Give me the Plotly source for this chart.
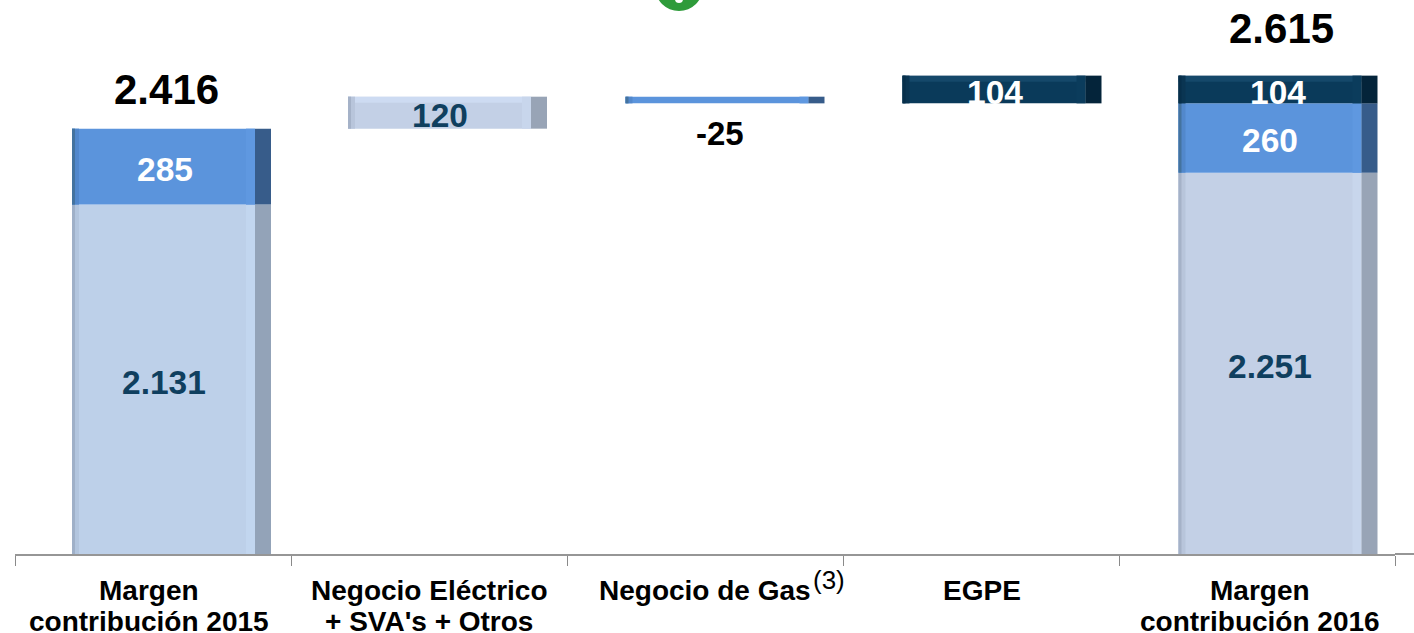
import plotly.graph_objects as go

categories = ["Margen contribución 2015", "Negocio Eléctrico + SVA's + Otros",
              "Negocio de Gas", "EGPE", "Margen contribución 2016"]
label_line1 = ["Margen", "Negocio Eléctrico", "Negocio de Gas", "EGPE", "Margen"]
label_line2 = ["contribución 2015", "+ SVA's + Otros", "", "", "contribución 2016"]
footnote_mark = "(3)"
series_light = [2131, 120, None, None, 2251]
series_blue = [285, None, -25, None, 260]
series_dark = [None, None, None, 104, 104]
totals = [2416, None, None, None, 2615]

FONT = "Liberation Sans"
PX_PER_UNIT = 0.2665
AXIS_MIN = 820
PLOT_W, PLOT_H = 1380, 554
CAT_W = PLOT_W / 5
LABEL_SHIFT = [-4, 0, 0, 1, 2.5]
BAR_SHIFT = [0, 0, 1.5, 2.5, 2.5]


def fmt(v):
    return f"{v:,}".replace(",", ".")


def bases():
    light, blue, dark = [], [], []
    running = 0
    for i in range(len(categories)):
        l, b, d = series_light[i], series_blue[i], series_dark[i]
        start = 0 if totals[i] is not None else running
        light.append(start)
        after_l = start + (l or 0)
        blue.append(after_l)
        after_b = after_l + (b or 0)
        dark.append(after_b)
        running = after_b + (d or 0)
    return light, blue, dark


base_l, base_b, base_d = bases()


def w(px):
    return px / CAT_W


def off(px):
    """Bar offset array: px from the bar's left edge, in category units."""
    return [(-81 + s + px) / CAT_W for s in BAR_SHIFT]


light_2015, light_rest = "#BDD0E9", "#C3D0E6"
layers = [
    dict(vals=series_light, base=base_l, text="#0F3F5F", bevel="#D2E0F6", dx=[0, 0, 0, 0, 0],
         body=[light_2015] + [light_rest] * 4,
         left1=["#9FB0C8"] + ["#A5B2C8"] * 4, left2=["#B2C5DE"] + ["#B8C5DB"] * 4,
         right=["#93A3B8"] + ["#98A4B6"] * 4, hi=["#C2D6EF"] + ["#C8D6EC"] * 4),
    dict(vals=series_blue, base=base_b, text="#FFFFFF", bevel=None, dx=[1, 0, 0, 0, 0],
         body=["#5B94DC"] * 5, left1=["#44739F"] * 5, left2=["#5288CC"] * 5,
         right=["#375C8A"] * 5, hi=["#5F98E0"] * 5),
    dict(vals=series_dark, base=base_d, text="#FFFFFF", bevel="#1A4E70", dx=[0, 0, 0, 1, 8],
         body=["#0A3A5A"] * 5, left1=["#072F4A"] * 5, left2=["#0A3552"] * 5,
         right=["#04243A"] * 5, hi=["#0B3C5C"] * 5),
]

fig = go.Figure()
BEVEL_UNITS = 6 / PX_PER_UNIT
for lay in layers:
    common = dict(x=categories, y=lay["vals"], base=lay["base"], hoverinfo="skip", showlegend=False)
    fig.add_trace(go.Bar(marker=dict(color=lay["body"], line_width=0), width=w(183), offset=off(0), **common))
    if lay["bevel"]:
        # lighter top edge on the short floating and capping segments
        short = [v if v is not None and v < 150 else None for v in lay["vals"]]
        bevel_y = [BEVEL_UNITS if v is not None else None for v in short]
        bevel_base = [b + v - BEVEL_UNITS if v is not None else None for b, v in zip(lay["base"], short)]
        fig.add_trace(go.Bar(x=categories, y=bevel_y, base=bevel_base, width=w(183), offset=off(0),
                             marker=dict(color=lay["bevel"], line_width=0, opacity=0.7),
                             hoverinfo="skip", showlegend=False))
    fig.add_trace(go.Bar(marker=dict(color=lay["hi"], line_width=0), width=w(9), offset=off(174), **common))
    fig.add_trace(go.Bar(marker=dict(color=lay["left2"], line_width=0), width=w(7), offset=off(0), **common))
    fig.add_trace(go.Bar(marker=dict(color=lay["left1"], line_width=0), width=w(3), offset=off(0), **common))
    fig.add_trace(go.Bar(marker=dict(color=lay["right"], line_width=0), width=w(16), offset=off(183), **common))

    # value labels, centred on the visible part of each segment
    for cat, v, b, s, d in zip(categories, lay["vals"], lay["base"], BAR_SHIFT, lay["dx"]):
        if v is None or v < 0:
            continue
        mid = (max(b, AXIS_MIN) + b + v) / 2
        fig.add_annotation(x=cat, y=mid, text=f"<b>{fmt(v)}</b>", showarrow=False,
                           xshift=10.5 + s + d, yshift=-3,
                           font=dict(family=FONT, size=33.5, color=lay["text"]))

# totals above the two full columns
fig.add_annotation(x=categories[0], y=totals[0], text=f"<b>{fmt(totals[0])}</b>", showarrow=False,
                   xshift=13, yshift=39, font=dict(family=FONT, size=42, color="#000000"))
fig.add_annotation(x=categories[4], y=totals[4], text=f"<b>{fmt(totals[4])}</b>", showarrow=False,
                   xshift=24, yshift=47, font=dict(family=FONT, size=42, color="#000000"))
# the negative step is labelled below its bar
fig.add_annotation(x=categories[2], y=base_b[2] + series_blue[2], text=f"<b>{series_blue[2]}</b>", showarrow=False,
                   xshift=15, yshift=-30, font=dict(family=FONT, size=33, color="#000000"))

# category labels, one annotation per line so the line pitch matches
for cat, l1, l2, dx in zip(categories, label_line1, label_line2, LABEL_SHIFT):
    fig.add_annotation(x=cat, y=0, yref="paper", text=f"<b>{l1}</b>", showarrow=False, xshift=dx, yshift=-36,
                       yanchor="middle", font=dict(family=FONT, size=28, color="#000000"))
    if l2:
        fig.add_annotation(x=cat, y=0, yref="paper", text=f"<b>{l2}</b>", showarrow=False, xshift=dx, yshift=-67,
                           yanchor="middle", font=dict(family=FONT, size=28, color="#000000"))
fig.add_annotation(x=categories[2], y=0, yref="paper", text=footnote_mark, showarrow=False, xshift=124, yshift=-26,
                   yanchor="middle", font=dict(family=FONT, size=26, color="#000000"))

fig.update_layout(
    width=1414, height=633,
    margin=dict(l=15, r=19, t=0, b=79, pad=0),
    paper_bgcolor="#FFFFFF", plot_bgcolor="#FFFFFF",
    barmode="overlay", showlegend=False,
    xaxis=dict(type="category", categoryorder="array", categoryarray=categories,
               tickson="boundaries", ticks="outside", ticklen=10, tickwidth=1, tickcolor="#8A8A8A",
               showticklabels=False, showline=True, linecolor="#969696", linewidth=2,
               showgrid=False, zeroline=False),
    yaxis=dict(range=[AXIS_MIN, AXIS_MIN + PLOT_H / PX_PER_UNIT], visible=False, fixedrange=True),
    shapes=[
        dict(type="line", xref="paper", yref="paper", x0=1, x1=1.02, y0=0, y1=0,
             line=dict(color="#969696", width=2)),
        dict(type="circle", xref="paper", yref="paper", x0=(655 - 15) / PLOT_W, x1=(703 - 15) / PLOT_W,
             y0=1 - 11 / PLOT_H, y1=1 + 37 / PLOT_H, fillcolor="#2E9B3A", line_width=0),
        dict(type="circle", xref="paper", yref="paper", x0=(675 - 15) / PLOT_W, x1=(683 - 15) / PLOT_W,
             y0=1 - 3 / PLOT_H, y1=1 + 5 / PLOT_H, fillcolor="#FFFFFF", line_width=0),
    ],
)
fig.write_html("out.html", config={"displayModeBar": False},
               post_script="document.body.style.margin='0';window.dispatchEvent(new Event('resize'));")
